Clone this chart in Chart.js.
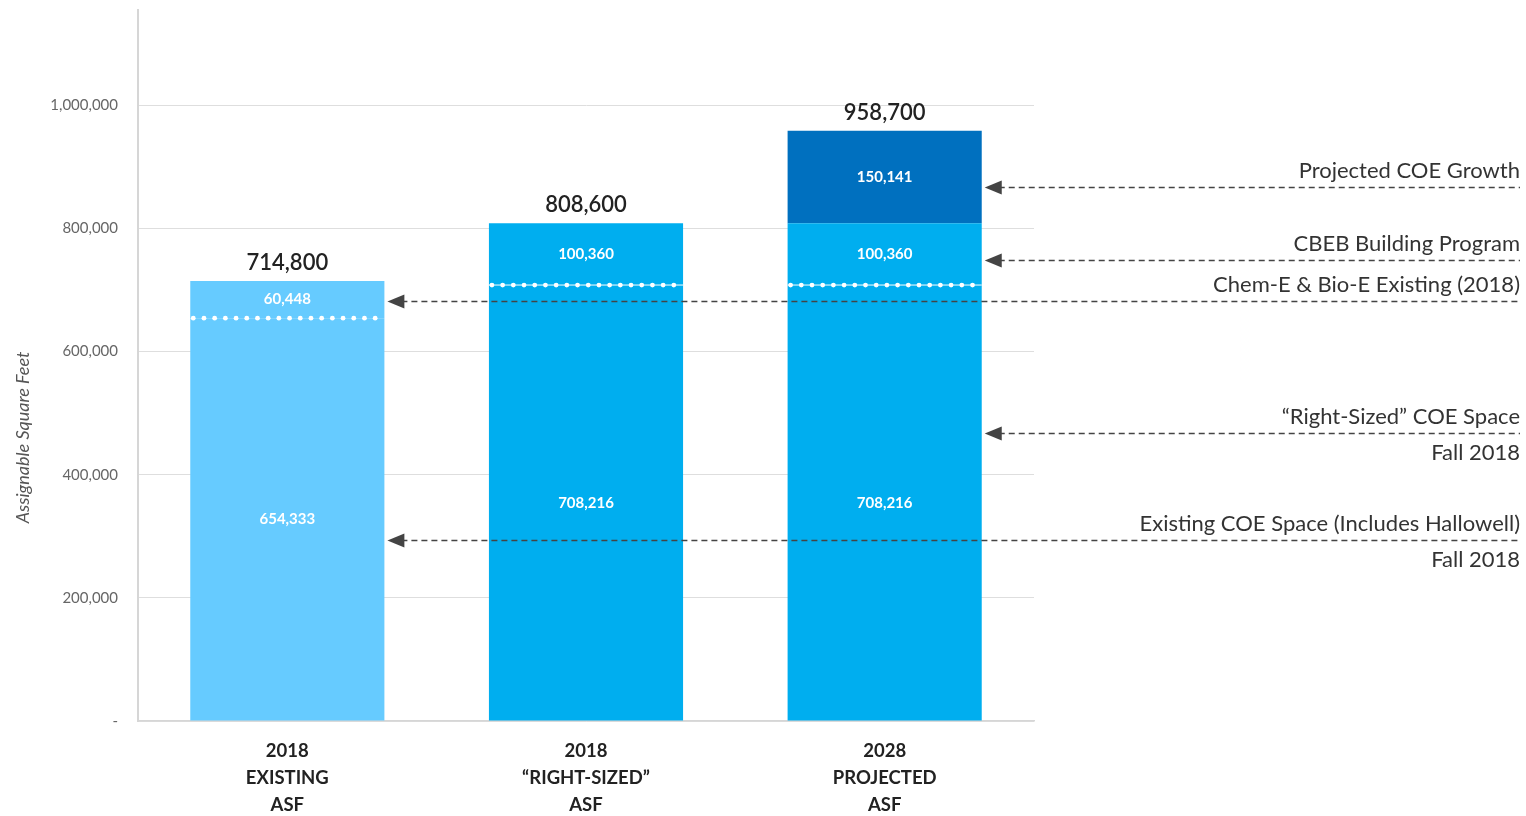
<!DOCTYPE html>
<html>
<head>
<meta charset="utf-8">
<script src="https://cdn.jsdelivr.net/npm/chart.js@4.4.1/dist/chart.umd.min.js"></script>
<style>
  html, body { margin: 0; padding: 0; background: #fff; }
</style>
</head>
<body>
<canvas id="asfChart" width="1526" height="816"></canvas>
<script>
// categories (multi-line tick labels)
const categories = [
    ['2018', 'EXISTING', 'ASF'],
    ['2018', '\u201CRIGHT-SIZED\u201D', 'ASF'],
    ['2028', 'PROJECTED', 'ASF']
];

// stacked segments
const baseSpace = [654333, 708216, 708216];
const addedSpace = [60448, 100360, 100360];
const growthSpace = [null, null, 150141];
const totalLabels = ['714,800', '808,600', '958,700'];

// colors per bar
const baseColors = ['#66CBFF', '#00AEEF', '#00AEEF'];
const growthColor = '#0070BF';

// y axis
const yMax = 1155000;
const yTicks = [0, 200000, 400000, 600000, 800000, 1000000];

// right-hand annotations (value = where the arrow sits, bar = which bar it points to)
const noteTitles = ['Projected COE Growth', 'CBEB Building Program', 'Chem-E & Bio-E Existing (2018)', '\u201CRight-Sized\u201D COE Space', 'Existing COE Space (Includes Hallowell)'];
const noteSubtitles = ['', '', '', 'Fall 2018', 'Fall 2018'];
const noteValues = [866900, 748400, 681800, 467500, 293800];
const noteBars = [2, 2, 0, 2, 0];

const fmt = v => v.toLocaleString('en-US');

// white dotted divider on top of the base segment + labels + arrows
const overlayPlugin = {
    id: 'overlay',
    afterDatasetsDraw(chart) {
        const ctx = chart.ctx;
        const y = chart.scales.y;
        const area = chart.chartArea;
        const baseMeta = chart.getDatasetMeta(0);

        ctx.save();

        // y axis title, sits a bit below the middle like the original
        ctx.save();
        ctx.translate(23, (area.top + area.bottom) / 2 + 72);
        ctx.rotate(-Math.PI / 2);
        ctx.font = 'italic 18px Lato';
        ctx.fillStyle = '#555555';
        ctx.textAlign = 'center';
        ctx.textBaseline = 'middle';
        ctx.fillText('Assignable Square Feet', 0, 0);
        ctx.restore();

        // dotted dividers
        baseMeta.data.forEach((bar, i) => {
            const left = bar.x - bar.width / 2;
            const right = bar.x + bar.width / 2;
            const top = bar.y;
            if (i > 0) {
                ctx.strokeStyle = '#ffffff';
                ctx.lineWidth = 1;
                ctx.beginPath();
                ctx.moveTo(left, top);
                ctx.lineTo(right, top);
                ctx.stroke();
            }
            ctx.fillStyle = '#ffffff';
            for (let x = left + 3; x <= right - 2; x += 10.7) {
                ctx.beginPath();
                ctx.arc(x, top, 2.4, 0, Math.PI * 2);
                ctx.fill();
            }
        });

        // segment value labels
        ctx.font = 'bold 15px Lato';
        ctx.fillStyle = '#ffffff';
        ctx.textAlign = 'center';
        ctx.textBaseline = 'middle';
        chart.data.datasets.forEach((ds, di) => {
            const meta = chart.getDatasetMeta(di);
            meta.data.forEach((bar, i) => {
                const v = ds.data[i];
                if (v == null) return;
                ctx.fillText(fmt(v), bar.x, (bar.y + bar.base) / 2);
            });
        });

        // totals above bars
        ctx.font = '600 22px Lato';
        ctx.fillStyle = '#222222';
        ctx.textBaseline = 'alphabetic';
        totalLabels.forEach((t, i) => {
            const total = baseSpace[i] + addedSpace[i] + (growthSpace[i] || 0);
            const bar = baseMeta.data[i];
            ctx.fillText(t, bar.x, y.getPixelForValue(total) - 11);
        });

        // annotation arrows
        const lineEnd = 1520;
        noteValues.forEach((v, i) => {
            const bar = baseMeta.data[noteBars[i]];
            const tip = bar.x + bar.width / 2 + 3;
            const py = Math.round(y.getPixelForValue(v)) + 0.5;

            ctx.strokeStyle = '#444444';
            ctx.lineWidth = 1.6;
            ctx.setLineDash([6, 4]);
            ctx.beginPath();
            ctx.moveTo(tip + 14, py);
            ctx.lineTo(lineEnd, py);
            ctx.stroke();
            ctx.setLineDash([]);

            ctx.fillStyle = '#444444';
            ctx.beginPath();
            ctx.moveTo(tip, py);
            ctx.lineTo(tip + 17, py - 7);
            ctx.lineTo(tip + 17, py + 7);
            ctx.closePath();
            ctx.fill();

            ctx.font = '22px Lato';
            ctx.fillStyle = '#333333';
            ctx.textAlign = 'right';
            ctx.textBaseline = 'alphabetic';
            ctx.fillText(noteTitles[i], lineEnd, py - 10);
            if (noteSubtitles[i]) {
                ctx.fillText(noteSubtitles[i], lineEnd, py + 26);
            }
        });

        ctx.restore();
    }
};

Chart.defaults.font.family = 'Lato';

new Chart(document.getElementById('asfChart').getContext('2d'), {
    type: 'bar',
    data: {
        labels: categories,
        datasets: [
            { label: 'Existing', data: baseSpace, backgroundColor: baseColors },
            { label: 'Added', data: addedSpace, backgroundColor: baseColors },
            { label: 'Growth', data: growthSpace, backgroundColor: growthColor }
        ]
    },
    options: {
        responsive: false,
        animation: false,
        layout: { padding: { top: 10, right: 492, bottom: 0, left: 0 } },
        datasets: {
            bar: { categoryPercentage: 1, barPercentage: 0.65, borderWidth: 0 }
        },
        plugins: {
            legend: { display: false },
            tooltip: { enabled: false }
        },
        scales: {
            x: {
                stacked: true,
                grid: { display: false },
                border: { display: true, color: '#d6d6d6', width: 1.5 },
                ticks: {
                    color: '#222222',
                    font: { size: 18.5, weight: 'bold', lineHeight: 1.46 },
                    padding: 9
                },
                afterFit(scale) { scale.height = 95; }
            },
            y: {
                stacked: true,
                min: 0,
                max: yMax,
                grid: { color: '#dedede', lineWidth: 1, drawTicks: false },
                border: { display: true, color: '#d6d6d6', width: 2 },
                ticks: {
                    color: '#666666',
                    font: { size: 15 },
                    padding: 20,
                    callback: v => v === 0 ? '-' : fmt(v)
                },
                afterBuildTicks(scale) {
                    scale.ticks = yTicks.map(v => ({ value: v }));
                },
                afterFit(scale) {
                    scale.width = 138;
                    scale.paddingTop = 0;
                    scale.paddingBottom = 0;
                }
            }
        }
    },
    plugins: [overlayPlugin]
});
</script>
</body>
</html>
